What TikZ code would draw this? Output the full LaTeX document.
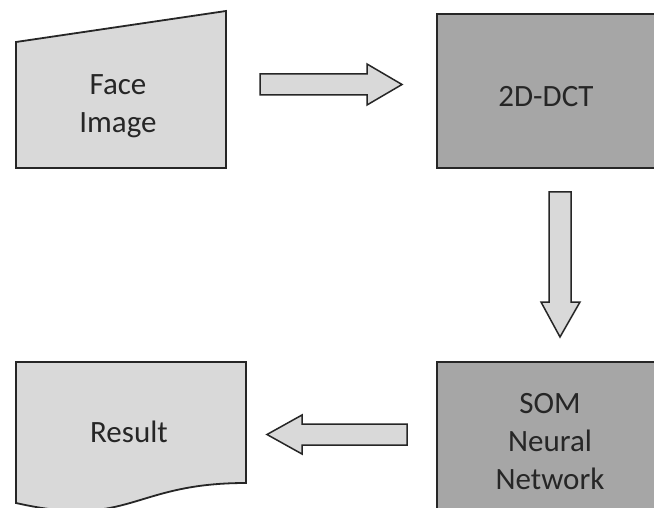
\documentclass[tikz,border=0pt]{standalone}
\usepackage{fontspec}
\setmainfont{Carlito}
\definecolor{lite}{HTML}{D9D9D9}
\definecolor{darkg}{HTML}{A6A6A6}
\definecolor{linec}{HTML}{262626}
\definecolor{txt}{HTML}{262626}
\begin{document}
\begin{tikzpicture}[x=1pt,y=-1pt,
  shp/.style={draw=linec, line width=1.8pt, line join=miter},
  litefill/.style={fill=lite},
  darkfill/.style={fill=darkg},
  lbl/.style={font=\fontsize{31}{38}\selectfont, text=txt, align=center, inner sep=0pt},
  blockarrow/.style={draw=linec, fill=lite, line width=1.5pt, line join=miter}]
\useasboundingbox (0,0) rectangle (654,508);
\clip (0,0) rectangle (654,508);
\fill[white] (0,0) rectangle (654,508);
% Face Image (manual input)
\draw[shp,litefill] (16,42) -- (226,11) -- (226,168) -- (16,168) -- cycle;
\node[lbl] (face) at (118,106) {Face\\Image};
% 2D-DCT
\draw[shp,darkfill] (437,14) rectangle (680,168);
\node[lbl, anchor=base] (dct) at (546,107) {2D-DCT};
% SOM Neural Network
\draw[shp,darkfill] (437,362) rectangle (680,530);
\node[lbl] (som) at (550,442) {SOM\\Neural\\Network};
% Result (document)
\draw[shp,litefill] (16,362) -- (246,362) -- (246,483)
  .. controls (131,483) and (131,529) .. (16,503) -- cycle;
\node[lbl, anchor=base] (res) at (129,442) {Result};
% block arrows
\draw[blockarrow] (260,74) -- (367,74) -- (367,64) -- (402,84.5) -- (367,105) -- (367,95) -- (260,95) -- cycle;
\draw[blockarrow] (549,192) -- (571,192) -- (571,302) -- (580,302) -- (560,337) -- (541,302) -- (549,302) -- cycle;
\draw[blockarrow] (407,424) -- (302,424) -- (302,415) -- (267,434.5) -- (302,454) -- (302,445) -- (407,445) -- cycle;
\end{tikzpicture}
\end{document}
